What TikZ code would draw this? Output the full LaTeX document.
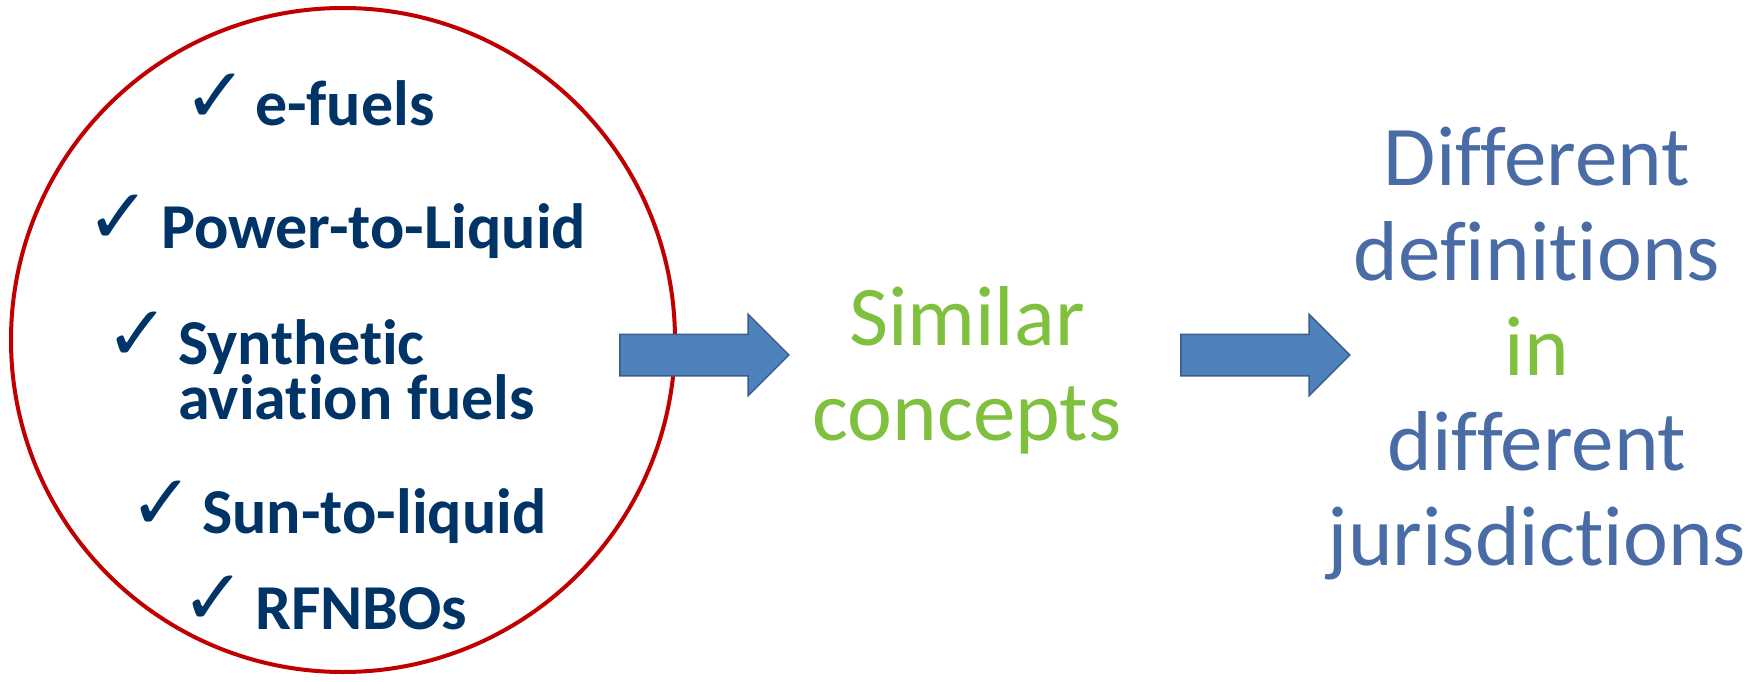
\documentclass[tikz,border=0pt]{standalone}
\usepackage{xcolor}
\usepackage{fontspec}
\setmainfont{Carlito}[Ligatures=NoCommon]
\newfontfamily\checkfont{DejaVu Sans}
\usetikzlibrary{shapes,arrows,positioning,calc,shapes.arrows}
\definecolor{fuelred}{HTML}{C00000}
\definecolor{fuelnavy}{HTML}{003366}
\definecolor{fuelgreen}{HTML}{80C03F}
\definecolor{fuelblue}{HTML}{4A6CA6}
\definecolor{arrowfill}{HTML}{4F81BD}
\definecolor{arrowline}{HTML}{385D8A}

\tikzset{
    fuelitem/.style={anchor=base west, inner sep=0pt, text=fuelnavy, align=left,
                     font=\fontsize{64}{55}\selectfont\bfseries},
    checkmark/.style={anchor=base west, inner sep=0pt, text=fuelnavy,
                      font=\checkfont\bfseries\fontsize{77}{77}\selectfont},
    bigtext/.style={anchor=base, inner sep=0pt, align=center,
                    font=\fontsize{85}{95}\selectfont},
    blockarrow/.style={single arrow, draw=arrowline, fill=arrowfill, line width=1.5pt,
                       minimum height=169pt, minimum width=80pt,
                       single arrow head extend=20pt, inner xsep=0pt, inner ysep=20pt}
}

\begin{document}
\begin{tikzpicture}[x=1pt,y=-1pt]
        \useasboundingbox (0,0) rectangle (1763,682);
        % circle with the fuel names
        \node[draw=fuelred, line width=4pt, circle, minimum size=664pt, inner sep=0pt] (fuelcircle) at (343,340) {};
        \node[checkmark] (chkA) at (183,122) {✓};
        \node[fuelitem] (efuels) at (255,126) {e-fuels};
        \node[checkmark] (chkB) at (86,243) {✓};
        \node[fuelitem] (ptl) at (161,248) {Power-to-Liquid};
        \node[checkmark] (chkC) at (105,360) {✓};
        \node[fuelitem] (saf) at (178,419) {Synthetic\\aviation fuels};
        \node[checkmark] (chkD) at (129,529) {✓};
        \node[fuelitem] (stl) at (202,533) {Sun-to-liquid};
        \node[checkmark] (chkE) at (181,624) {✓};
        \node[fuelitem] (rfnbo) at (255,629) {RFNBOs};
        % block arrows and the two statements
        \node[blockarrow] (arrowA) at (694,355) {};
        \node[bigtext, text=fuelgreen] (similar) at (967,440) {Similar\\concepts};
        \node[blockarrow] (arrowB) at (1255,355) {};
        \node[bigtext, text=fuelblue] (defs) at (1537,565) {Different\\definitions\\\textcolor{fuelgreen}{in}\\different\\jurisdictions};
    \end{tikzpicture}
\end{document}
